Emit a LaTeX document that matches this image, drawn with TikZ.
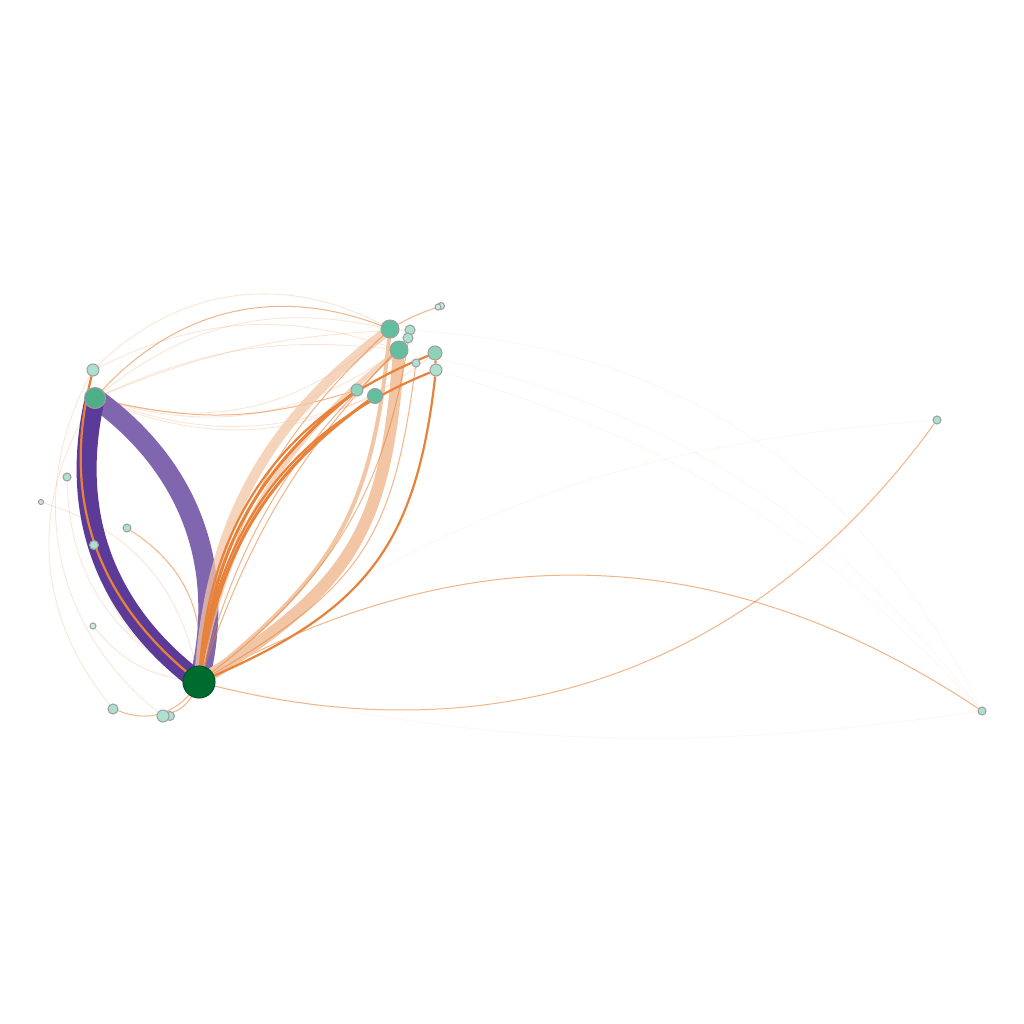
\documentclass[tikz,border=0pt]{standalone}
\usepackage{xcolor}
\usepackage{tikz}
\usetikzlibrary{backgrounds}
\definecolor{hubgreen}{HTML}{006B2E}
\definecolor{tealA}{HTML}{4FAE88}
\definecolor{tealB}{HTML}{62BE9F}
\definecolor{tealC}{HTML}{8ED2BA}
\definecolor{tealD}{HTML}{ADE0D0}
\definecolor{tealE}{HTML}{CBEBE1}
\definecolor{purpD}{HTML}{5B3A98}
\definecolor{purpL}{HTML}{8066AE}
\definecolor{orng}{HTML}{E8823A}
\definecolor{peach}{HTML}{F2C6A4}

\begin{document}
\begin{tikzpicture}[x=0.01cm, y=-0.01cm, vtx/.style={circle, draw=gray!75, line width=0.3pt, inner sep=0pt, minimum size=#1}, heavy/.style={orng, line width=0.22mm}, thinline/.style={orng, line width=0.1mm, opacity=0.6}, faint/.style={orng, line width=0.08mm, opacity=0.22}, ghost/.style={orng, line width=0.08mm, opacity=0.07}]
\useasboundingbox (0,0) rectangle (1024,1024);
\node[vtx=3.2mm, fill=hubgreen, draw=hubgreen!80!black] (hub) at (199,682) {};
\node[vtx=2.1mm, fill=tealA] (lft) at (95,398) {};
\node[vtx=1.2mm, fill=tealD] (lfttop) at (93,370) {};
\node[vtx=1.8mm, fill=tealB] (c1) at (390,329) {};
\node[vtx=1.8mm, fill=tealB] (c2) at (399,350) {};
\node[vtx=1.4mm, fill=tealC] (e1) at (435,353) {};
\node[vtx=1.2mm, fill=tealD] (e2) at (436,370) {};
\node[vtx=1.5mm, fill=tealB] (g1) at (375,396) {};
\node[vtx=1.2mm, fill=tealC] (g2) at (357,390) {};
\node[vtx=1.0mm, fill=tealD] (j1) at (410,330) {};
\node[vtx=1.0mm, fill=tealD] (j2) at (408,338) {};
\node[vtx=0.8mm, fill=tealD] (k1) at (416,363) {};
\node[vtx=0.7mm, fill=tealE] (l1) at (441,306) {};
\node[vtx=0.6mm, fill=tealE] (l2) at (438,307) {};
\node[vtx=0.8mm, fill=tealD] (m1) at (937,420) {};
\node[vtx=0.8mm, fill=tealD] (n1) at (982,711) {};
\node[vtx=0.8mm, fill=tealD] (o1) at (67,477) {};
\node[vtx=0.5mm, fill=tealE] (p1) at (41,502) {};
\node[vtx=0.8mm, fill=tealD] (q1) at (127,528) {};
\node[vtx=0.9mm, fill=tealD] (r1) at (94,545) {};
\node[vtx=0.6mm, fill=tealE] (s1) at (93,626) {};
\node[vtx=1.0mm, fill=tealD] (t1) at (113,709) {};
\node[vtx=0.9mm, fill=tealD] (u2) at (170,716) {};
\node[vtx=1.2mm, fill=tealD] (u1) at (163,716) {};
\begin{scope}[on background layer]
\draw[ghost] (c1) to[bend left=30] (n1);
\draw[ghost] (e2) to[bend left=15] (n1);
\draw[ghost] (hub) to[bend right=10] (n1);
\draw[ghost] (hub) to[bend left=15] (m1);
\draw[ghost] (c2) to[bend left=20] (n1);
\draw[faint] (lfttop) to[bend left=36] (c1);
\draw[faint] (lfttop) to[bend left=22] (c2);
\draw[faint] (lft) to[bend left=25] (c1);
\draw[faint] (lft) to[bend left=15] (c2);
\draw[faint] (lft) to[bend left=10] (j1);
\draw[faint] (lft) to[bend right=20] (g1);
\draw[faint] (lft) to[bend right=25] (c2);
\draw[faint] (lft) to[bend right=30] (e1);
\draw[faint] (lft) to[bend right=28] (c1);
\draw[thinline] (lft) to[bend left=34] (c1);
\draw[thinline] (lft) to[bend right=15] (g2);
\draw[faint] (p1) to[bend left=30] (hub);
\draw[faint] (o1) to[bend right=30] (hub);
\draw[faint] (r1) to[bend right=25] (hub);
\draw[faint] (s1) to[bend right=20] (hub);
\draw[faint] (lft) to[bend right=35] (t1);
\draw[faint] (lfttop) to[bend right=40] (u1);
\draw[thinline] (q1) to[bend left=30] (hub);
\draw[thinline] (t1) to[bend right=35] (hub);
\draw[thinline] (u1) to[bend right=20] (hub);
\draw[thinline] (c1) to[bend left=5] (l2);
\draw[thinline] (hub) to[bend right=34] (m1);
\draw[thinline] (hub) to[bend left=31] (n1);
\draw[purpL, line width=2.0mm] (hub.center) to[bend right=34] (lft.center);
\draw[purpD, line width=2.0mm] (hub.center) to[bend left=33] (lft.center);
\draw[heavy] (hub) to[bend left=32] (lfttop);
\draw[peach, opacity=0.75, line width=1.0mm] (hub.center) to[bend left=25] (c1.center);
\draw[peach, opacity=0.75, line width=0.5mm] (hub.center) to[bend left=21] (c2.center);
\draw[peach, line width=1.2mm] (hub.center) to[bend right=27, looseness=1.2] (c2.center);
\draw[peach, line width=0.4mm] (hub.center) to[bend right=23, looseness=1.15] (c1.center);
\draw[thinline] (hub) to[bend left=18] (c1);
\draw[thinline] (hub) to[bend left=15] (c2);
\draw[thinline] (hub) to[bend right=26, looseness=1.2] (k1);
\draw[thinline] (hub) to[bend right=22] (j1);
\draw[thinline] (hub) to[bend left=12] (j2);
\draw[heavy] (hub) to[bend right=30, looseness=1.15] (e2);
\draw[heavy] (hub) to[bend left=32] (e1);
\draw[heavy] (hub) to[bend left=30] (e2);
\draw[heavy, line width=0.3mm] (hub) to[bend left=22] (g1);
\draw[heavy, line width=0.3mm] (hub) to[bend left=22] (g2);
\draw[heavy] (e1) -- (e2);
\end{scope}
\end{tikzpicture}
\end{document}
